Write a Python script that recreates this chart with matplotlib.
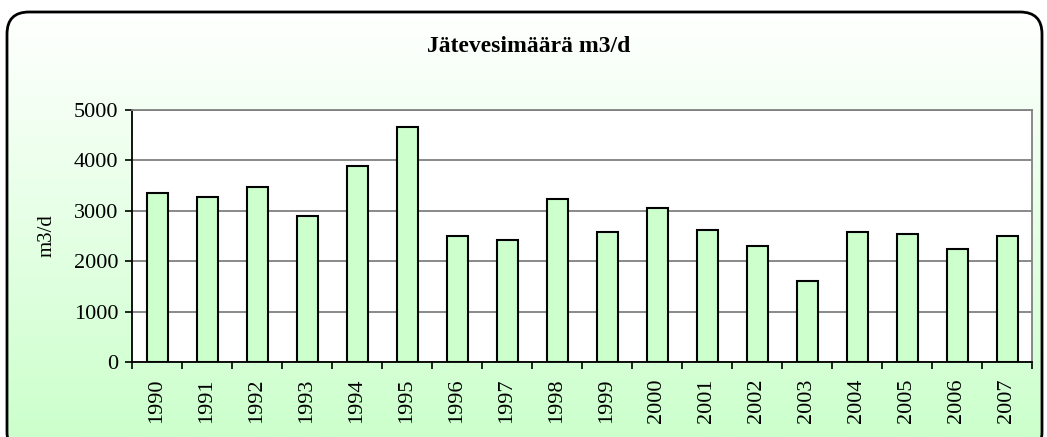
import numpy as np
import matplotlib
matplotlib.use("Agg")
import matplotlib.pyplot as plt
from matplotlib.patches import FancyBboxPatch
from matplotlib.colors import LinearSegmentedColormap

years = ["1990", "1991", "1992", "1993", "1994", "1995", "1996", "1997", "1998",
         "1999", "2000", "2001", "2002", "2003", "2004", "2005", "2006", "2007"]
values = [3350, 3280, 3470, 2900, 3880, 4660, 2500, 2420, 3240,
          2570, 3060, 2610, 2310, 1600, 2580, 2540, 2240, 2500]
yticks = [0, 1000, 2000, 3000, 4000, 5000]
title = "Jätevesimäärä m3/d"
ylabel = "m3/d"

W, H = 1047, 437
fig = plt.figure(figsize=(W / 100, H / 100), dpi=100)
fig.patch.set_facecolor("white")

# background with gradient clipped to rounded box
bg = fig.add_axes([0, 0, 1, 1])
bg.axis("off")
cmap = LinearSegmentedColormap.from_list("g", ["#ffffff", "#ccffcc"])
grad = np.linspace(0, 1, 256).reshape(-1, 1)
y0 = -17  # bottom of box (below figure)
y1 = H - 12
box = FancyBboxPatch((7, y0), 1035, y1 - y0, boxstyle="round,pad=0,rounding_size=22",
                     facecolor="none", edgecolor="black", linewidth=2, zorder=3,
                     clip_on=False)
bg.add_patch(box)
im = bg.imshow(grad, cmap=cmap, extent=[7, 1042, 0, y1], aspect="auto",
               origin="upper", zorder=1)
im.set_clip_path(box)
bg.set_xlim(0, W)
bg.set_ylim(0, H)

l, r, t, b = 132, 1032, 110, 362
ax = fig.add_axes([l / W, (H - b) / H, (r - l) / W, (b - t) / H])
ax.set_facecolor("white")
x = np.arange(len(years))
ax.bar(x, values, width=0.42, color="#ccffcc", edgecolor="black", linewidth=1.5, zorder=3)
ax.set_xlim(-0.5, len(years) - 0.5)
ax.set_ylim(0, 5000)
ax.set_yticks(yticks)
ax.set_yticklabels([str(v) for v in yticks], fontfamily="Liberation Serif", fontsize=16)
ax.yaxis.grid(True, color="#808080", linewidth=1.3, zorder=0)
ax.set_axisbelow(True)
ax.set_xticks(x)
ax.set_xticklabels(years, rotation=90, fontfamily="Liberation Serif", fontsize=16)
ax.tick_params(axis="x", length=0, pad=12)
ax.set_xticks(np.arange(-0.5, len(years)), minor=True)
ax.tick_params(axis="x", which="minor", length=5, width=1.2, direction="out")
ax.tick_params(axis="y", length=5, width=1.2, direction="out", pad=5)
for s in ["left", "bottom"]:
    ax.spines[s].set_color("black")
    ax.spines[s].set_linewidth(1.3)
for s in ["right", "top"]:
    ax.spines[s].set_color("#808080")
    ax.spines[s].set_linewidth(1.3)
ax.set_ylabel(ylabel, fontfamily="Liberation Serif", fontsize=15, labelpad=12)

fig.text(529 / W, 1 - 47 / H, title, ha="center", va="center",
         fontfamily="Liberation Serif", fontweight="bold", fontsize=17)

fig.savefig("out.png", dpi=100)
